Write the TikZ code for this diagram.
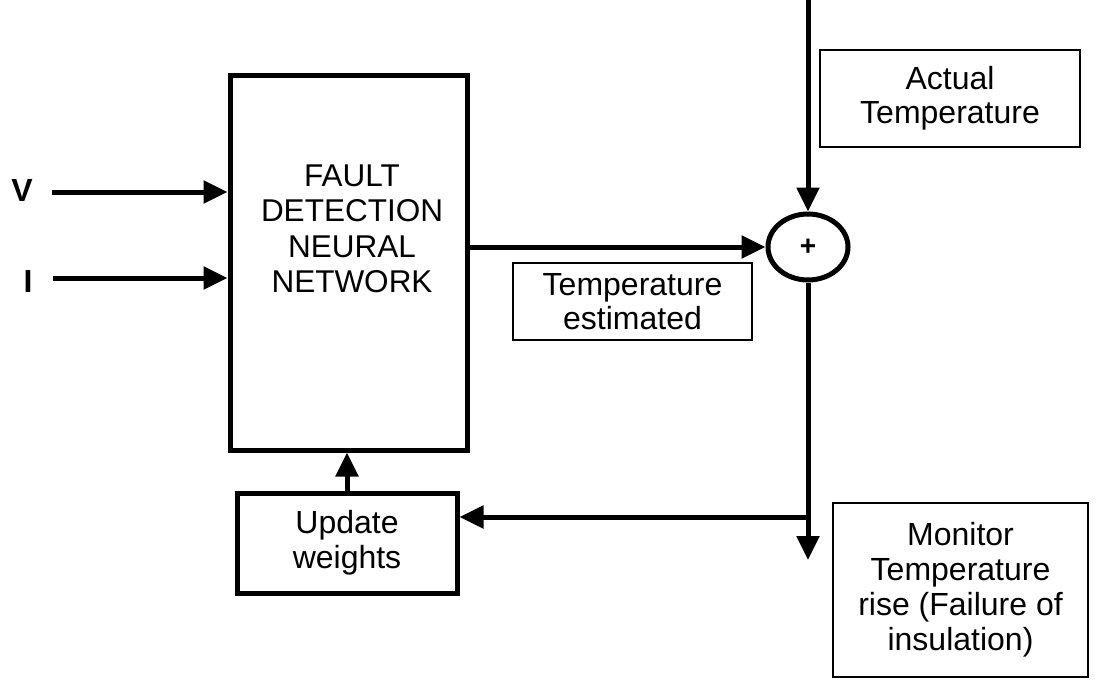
\documentclass[tikz,border=0pt]{standalone}
\usepackage{fontspec}
\setmainfont{Liberation Sans}
\usetikzlibrary{arrows.meta,shapes.geometric}
\begin{document}
\begin{tikzpicture}[x=1pt,y=-1pt,
  thickbox/.style={draw,line width=5pt,inner sep=0pt,minimum width=#1},
  thinbox/.style={draw,line width=1.8pt,inner sep=0pt,align=center,font=\fontsize{32}{34}\selectfont},
  txt/.style={align=center,font=\fontsize{31.5}{35.5}\selectfont,inner sep=0pt},
  arr/.style={line width=5pt,-{Triangle[length=24pt,width=22pt]}}]
\useasboundingbox (0,0) rectangle (1097,685);
\fill[white] (0,0) rectangle (1097,685);
% main block
\node[thickbox=237pt,minimum height=375pt] (main) at (348.5,262.5) {};
\node[txt] (mainlbl) at (352,229) {FAULT\\DETECTION\\NEURAL\\NETWORK};
% update block
\node[thickbox=220pt,minimum height=100pt,txt,font=\fontsize{32}{35}\selectfont] (upd) at (347,543) {Update\\weights};
% text boxes
\node[thinbox,minimum width=239pt,minimum height=77pt] (test) at (632.5,301.5) {Temperature\\estimated};
\node[thinbox,minimum width=260pt,minimum height=97pt] (act) at (950,98.5) {Actual\\Temperature};
\node[thinbox,minimum width=255pt,minimum height=174pt,font=\fontsize{32}{35}\selectfont] (mon) at (960.5,590) {Monitor\\Temperature\\rise (Failure of\\insulation)};
% summing junction
\node[ellipse,draw,line width=5pt,minimum width=80pt,minimum height=66pt,inner sep=0pt,font=\bfseries\fontsize{28}{28}\selectfont] (circ) at (808,247) {+};
% inputs
\node[font=\bfseries\fontsize{32}{32}\selectfont,inner sep=0pt] (V) at (22,190) {V};
\node[font=\bfseries\fontsize{32}{32}\selectfont,inner sep=0pt] (I) at (28,281) {I};
\draw[arr] (52,192) coordinate (vs) -- (vs -| main.west);
\draw[arr] (53,278) coordinate (is) -- (is -| main.west);
% connectors
\draw[arr] (main.east |- circ.west) -- (circ.west);
\coordinate (top) at (808,0);
\draw[arr] (top) -- (circ.north);
\coordinate (dn) at (808,560);
\draw[arr] (circ.south) -- (dn);
\coordinate (fb) at (808,517);
\draw[arr] (fb) -- (fb -| upd.east);
\draw[arr] (upd.north) -- (upd.north |- main.south);
\end{tikzpicture}
\end{document}
